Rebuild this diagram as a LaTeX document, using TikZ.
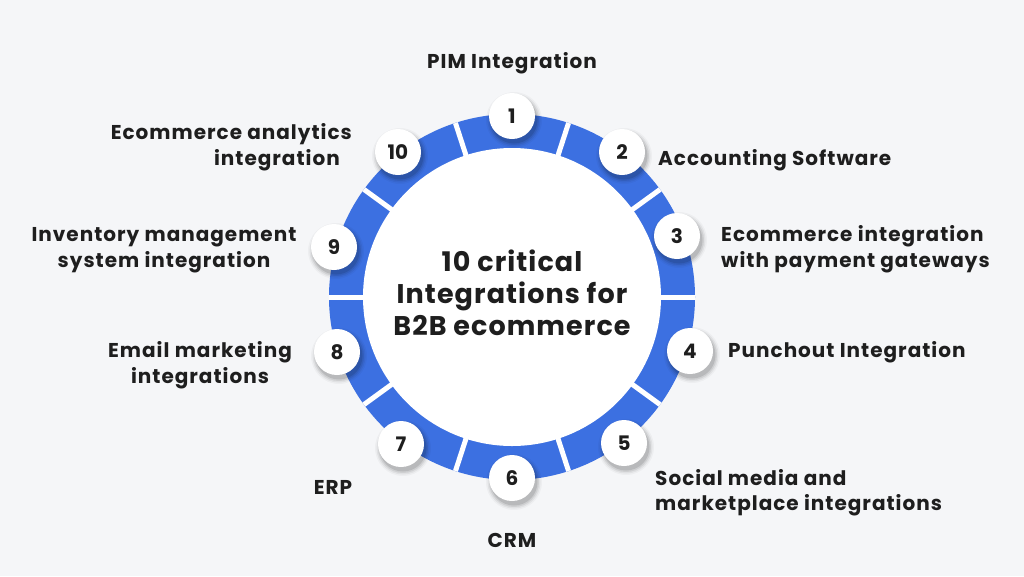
\documentclass[tikz,border=0pt]{standalone}
\usepackage{fontspec}
\setmainfont{Poppins}
\newfontfamily\labfont[LetterSpace=5]{Poppins}
\newfontfamily\titfont[LetterSpace=4]{Poppins}
\usetikzlibrary{calc}
\definecolor{bg}{HTML}{F5F6F8}
\definecolor{ringblue}{HTML}{3C70E1}
\definecolor{txt}{HTML}{1E1E1E}
\begin{document}
\begin{tikzpicture}[x=1pt,y=-1pt,
  lab/.style={text=txt,inner sep=0pt,font=\labfont\bfseries\fontsize{20}{24}\selectfont},
  title/.style={text=txt,inner sep=0pt,font=\titfont\bfseries\fontsize{27}{32}\selectfont},
  numc/.style={circle,fill=white,minimum size=46pt,inner sep=0pt,text=txt,font=\bfseries\fontsize{20}{24}\selectfont},
  gapline/.style={draw=white,line width=5pt}]
\fill[bg] (0,0) rectangle (1024,576);
\useasboundingbox (0,0) rectangle (1024,576);
\coordinate (c) at (512,297);
\fill[ringblue] (c) circle[radius=183pt];
\fill[white] (c) circle[radius=149pt];
\foreach \a in {108,72,36,0,-36,-72,-108,-144,180,144}
  \draw[gapline] ($(c)+(\a:148pt)$) -- ($(c)+(\a:183pt)$);
\foreach \k/\x/\y in {1/512/116,2/622/152,3/677/236,4/690/351,5/624/443,6/512/478,7/401/444,8/337/352,9/334/247,10/398/152}{
  \foreach \s/\o in {28/0.03,26.5/0.05,25/0.08,23.5/0.1}
    \fill[black,opacity=\o] (\x+2,\y+4) circle[radius=\s pt];
  \node[numc] (n\k) at (\x,\y) {\k};
}
\node[title,anchor=base] (t1) at (512,271) {10 critical};
\node[title,anchor=base] (t2) at (512,303) {Integrations for};
\node[title,anchor=base] (t3) at (512,335) {B2B ecommerce};
\node[lab,anchor=base] (l1) at (512,68) {PIM Integration};
\node[lab,anchor=base west] (l2) at (658,165) {Accounting Software};
\node[lab,anchor=base west] (l3a) at (721,241) {Ecommerce integration};
\node[lab,anchor=base west] (l3b) at (721,267) {with payment gateways};
\node[lab,anchor=base west] (l4) at (728,357) {Punchout Integration};
\node[lab,anchor=base west] (l5a) at (655,485) {Social media and};
\node[lab,anchor=base west] (l5b) at (655,510) {marketplace integrations};
\node[lab,anchor=base] (l6) at (512,547) {CRM};
\node[lab,anchor=base] (l7) at (333,494) {ERP};
\node[lab,anchor=base] (l8a) at (200,357) {Email marketing};
\node[lab,anchor=base] (l8b) at (200,383) {integrations};
\node[lab,anchor=base] (l9a) at (164,241) {Inventory management};
\node[lab,anchor=base] (l9b) at (164,267) {system integration};
\node[lab,anchor=base east] (l10a) at (352,139) {Ecommerce analytics};
\node[lab,anchor=base east] (l10b) at (340,165) {integration};
\end{tikzpicture}
\end{document}
